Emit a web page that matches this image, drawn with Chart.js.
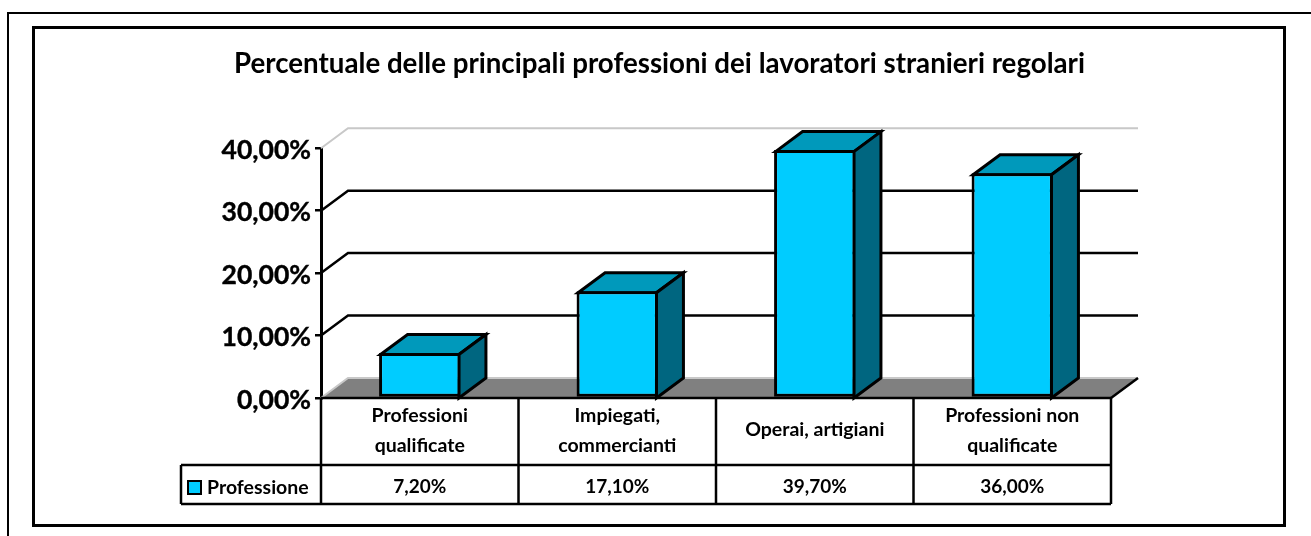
<!DOCTYPE html>
<html>
<head>
<meta charset="utf-8">
<title>Professioni</title>
<script src="https://cdn.jsdelivr.net/npm/chart.js@4/dist/chart.umd.min.js"></script>
<style>
  html, body { margin: 0; padding: 0; background: #fff; overflow: hidden; }
  #wrap { position: relative; width: 1311px; height: 536px; overflow: hidden; }
  #outer { position: absolute; left: 7px; top: 12px; width: 1320px; height: 540px; border: 2px solid #000; box-sizing: border-box; }
  #inner { position: absolute; left: 32px; top: 26px; width: 1254px; height: 501px; border: 3px solid #000; box-sizing: border-box; }
  canvas { position: absolute; left: 0; top: 0; }
</style>
</head>
<body>
<div id="wrap">
  <div id="outer"></div>
  <div id="inner"></div>
  <canvas id="chart" width="1311" height="536"></canvas>
</div>
<script>
const titleText = "Percentuale delle principali professioni dei lavoratori stranieri regolari";
const seriesName = "Professione";
const categories = ["Professioni qualificate", "Impiegati, commercianti", "Operai, artigiani", "Professioni non qualificate"];
const categoryLines = [["Professioni", "qualificate"], ["Impiegati,", "commercianti"], ["Operai, artigiani"], ["Professioni non", "qualificate"]];
const values = [7.2, 17.1, 39.7, 36.0];
const valueLabels = ["7,20%", "17,10%", "39,70%", "36,00%"];
const tickValues = [0, 10, 20, 30, 40];

const depthX = 27;
const depthY = -20;
const font = '"Lato", "Open Sans", sans-serif';

const fakeThreeD = {
  id: "fakeThreeD",
  beforeDatasetsDraw(chart) {
    const ctx = chart.ctx;
    const y = chart.scales.y;
    const left = chart.chartArea.left;
    const right = chart.chartArea.right;
    const y0 = y.getPixelForValue(0);

    ctx.save();
    // floor
    ctx.fillStyle = "#808080";
    ctx.beginPath();
    ctx.moveTo(left, y0);
    ctx.lineTo(left + depthX, y0 + depthY);
    ctx.lineTo(right + depthX, y0 + depthY);
    ctx.lineTo(right, y0);
    ctx.closePath();
    ctx.fill();

    // wall grid lines, the first and last are pale in the picture
    tickValues.forEach((t) => {
      const py = y.getPixelForValue(t);
      const pale = t === 0 || t === 40;
      ctx.strokeStyle = pale ? "#c8c8c8" : "#000";
      ctx.lineWidth = pale ? 2 : 2.5;
      ctx.beginPath();
      ctx.moveTo(left, py);
      ctx.lineTo(left + depthX, py + depthY);
      ctx.lineTo(right + depthX, py + depthY);
      ctx.stroke();
    });

    // edge of the floor on the right
    ctx.strokeStyle = "#000";
    ctx.lineWidth = 2.5;
    ctx.beginPath();
    ctx.moveTo(right, y0);
    ctx.lineTo(right + depthX, y0 + depthY);
    ctx.stroke();

    // top and side of each bar
    chart.getDatasetMeta(0).data.forEach((bar) => {
      const l = bar.x - bar.width / 2 + 1.5;
      const r = bar.x + bar.width / 2 - 1.5;
      const t = bar.y + 1.5;
      ctx.lineWidth = 3;
      ctx.strokeStyle = "#000";
      ctx.lineJoin = "miter";

      ctx.fillStyle = "#0099bb";
      ctx.beginPath();
      ctx.moveTo(l, t);
      ctx.lineTo(l + depthX, t + depthY);
      ctx.lineTo(r + depthX, t + depthY);
      ctx.lineTo(r, t);
      ctx.closePath();
      ctx.fill();
      ctx.stroke();

      ctx.fillStyle = "#006680";
      ctx.beginPath();
      ctx.moveTo(r, t);
      ctx.lineTo(r + depthX, t + depthY);
      ctx.lineTo(r + depthX, y0 + depthY);
      ctx.lineTo(r, y0);
      ctx.closePath();
      ctx.fill();
      ctx.stroke();
    });
    ctx.restore();
  },
  afterDraw(chart) {
    const ctx = chart.ctx;
    const x = chart.scales.x;
    const y0 = chart.scales.y.getPixelForValue(0);
    const left = chart.chartArea.left;
    const right = chart.chartArea.right;
    const rowTop = 465;
    const rowBottom = 504;
    const tableLeft = 181;
    const cell = (right - left) / categories.length;

    ctx.save();
    ctx.strokeStyle = "#000";
    ctx.lineWidth = 2.5;
    ctx.beginPath();
    ctx.moveTo(left, y0);
    ctx.lineTo(right, y0);
    ctx.moveTo(tableLeft, rowTop);
    ctx.lineTo(right, rowTop);
    ctx.moveTo(tableLeft, rowBottom);
    ctx.lineTo(right, rowBottom);
    ctx.moveTo(tableLeft, rowTop);
    ctx.lineTo(tableLeft, rowBottom);
    for (let i = 0; i <= categories.length; i++) {
      const px = left + cell * i;
      ctx.moveTo(px, y0);
      ctx.lineTo(px, rowBottom);
    }
    ctx.stroke();

    ctx.fillStyle = "#000";
    ctx.textAlign = "center";
    ctx.textBaseline = "middle";
    categories.forEach((c, i) => {
      const px = x.getPixelForValue(i);
      const lines = categoryLines[i];
      ctx.font = "bold 19.5px " + font;
      if (lines.length === 2) {
        ctx.fillText(lines[0], px, 416);
        ctx.fillText(lines[1], px, 446);
      } else {
        ctx.fillText(lines[0], px, 430);
      }
      ctx.font = "bold 19px " + font;
      ctx.fillText(valueLabels[i], px, 487);
    });

    // legend key inside the table
    ctx.lineWidth = 2;
    ctx.fillStyle = "#00ccff";
    ctx.fillRect(188, 481, 13, 13);
    ctx.strokeRect(188, 481, 13, 13);
    ctx.fillStyle = "#000";
    ctx.textAlign = "left";
    ctx.font = "bold 19.5px " + font;
    ctx.fillText(seriesName, 207, 488);
    ctx.restore();
  },
};

new Chart(document.getElementById("chart"), {
  type: "bar",
  data: {
    labels: categories,
    datasets: [
      {
        label: seriesName,
        data: values,
        backgroundColor: "#00ccff",
        borderColor: "#000",
        borderWidth: 3,
        borderSkipped: false,
        barPercentage: 0.412,
        categoryPercentage: 1,
      },
    ],
  },
  options: {
    responsive: false,
    animation: false,
    layout: { padding: { left: 208, right: 200, top: 0, bottom: 130 } },
    plugins: {
      legend: { display: false },
      tooltip: { enabled: false },
      title: {
        display: true,
        text: titleText,
        color: "#000",
        font: { family: font, size: 27.7, weight: "bold" },
        padding: { top: 47, bottom: 68 },
      },
    },
    scales: {
      x: {
        grid: { display: false },
        border: { display: false },
        ticks: { display: false },
      },
      y: {
        min: 0,
        max: 40,
        afterFit(axis) {
          axis.width = 113;
        },
        afterBuildTicks(axis) {
          axis.ticks = tickValues.map((v) => ({ value: v }));
        },
        grid: { drawOnChartArea: false, drawTicks: true, tickLength: 6, color: "#000", lineWidth: 2.5 },
        border: { color: "#000", width: 3 },
        ticks: {
          color: "#000",
          padding: 4,
          labelOffset: 2,
          textStrokeColor: "#000",
          textStrokeWidth: 0.4,
          font: { family: font, size: 26.5, weight: "bold" },
          callback: (v) => v.toFixed(2).replace(".", ",") + "%",
        },
      },
    },
  },
  plugins: [fakeThreeD],
});
</script>
</body>
</html>
